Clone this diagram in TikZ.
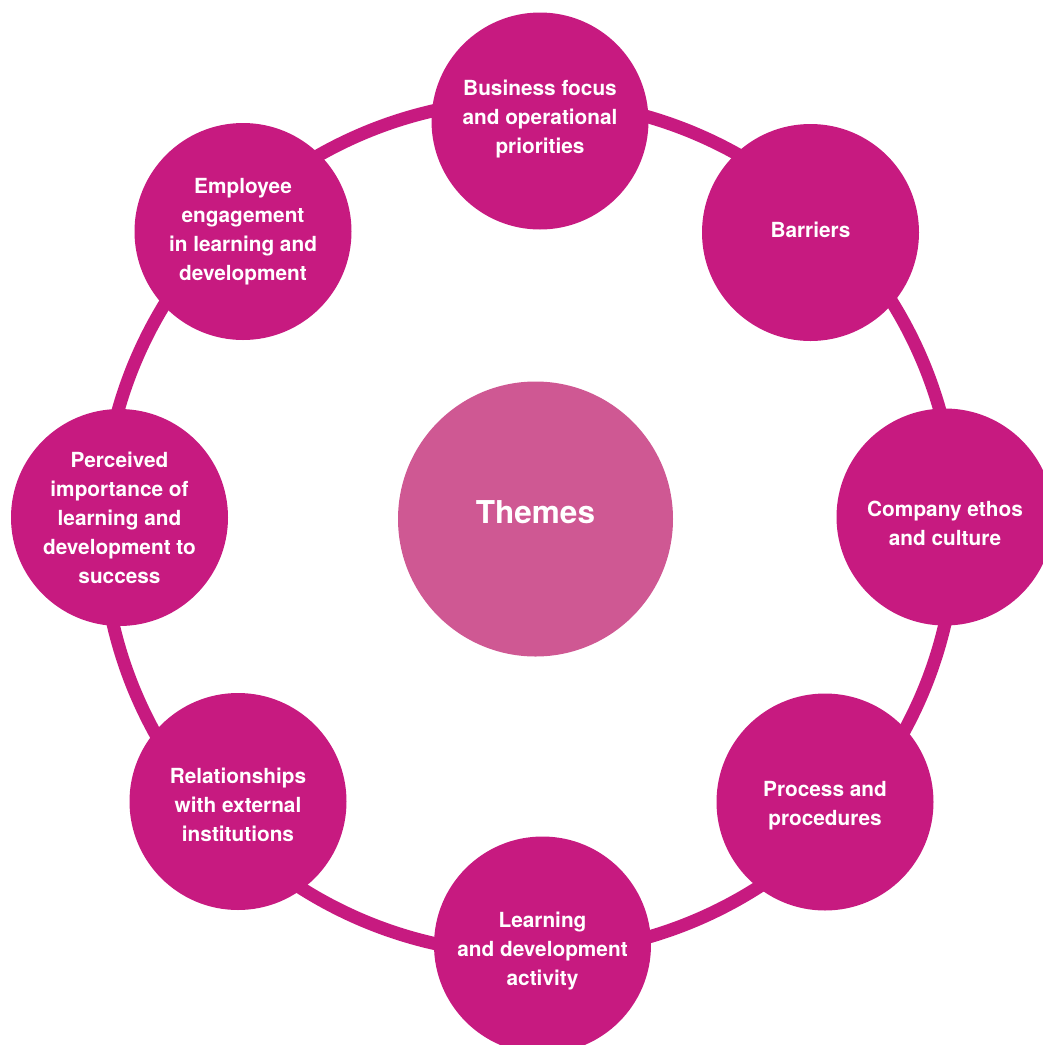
\documentclass[tikz,border=0pt]{standalone}
\usepackage{fontspec}
\setmainfont{TeX Gyre Heros}
\definecolor{themepink}{RGB}{199,26,128}
\definecolor{hubpink}{RGB}{207,88,147}
% centred block of lines with no height of its own, raised by #1 from the math axis
\newcommand{\shiftedlines}[2]{\raisebox{#1}[0pt][0pt]{\begin{tabular}{@{}c@{}}#2\end{tabular}}}
\begin{document}
\begin{tikzpicture}[x=1pt,y=-1pt,
  ring/.style={draw=themepink, line width=13pt},
  theme/.style={circle, fill=themepink, minimum size=217pt, inner sep=0pt,
    text=white, align=center, font=\bfseries\fontsize{20.8}{29}\selectfont},
  hub/.style={circle, fill=hubpink, minimum size=275pt, inner sep=0pt,
    text=white, align=center, font=\bfseries\fontsize{31.5}{38}\selectfont}]
\useasboundingbox (0,0) rectangle (1043,1045);
\clip (0,0) rectangle (1043,1045);

% ring linking the themes
\coordinate (ringc) at (529,527);
\draw[ring] (ringc) circle[radius=427pt];

% central hub
\node[hub] (hub) at (535.5,519) {\shiftedlines{-3pt}{Themes}};

% themes around the ring
\node[theme] (business) at (540,121) {\shiftedlines{-3pt}{Business focus\\and operational\\priorities}};
\node[theme] (barriers) at (810.5,232.5) {\shiftedlines{-4pt}{Barriers}};
\node[theme] (ethos) at (945,517) {\shiftedlines{-13pt}{Company ethos\\and culture}};
\node[theme] (process) at (825,802) {\shiftedlines{-8pt}{Process and\\procedures}};
\node[theme] (activity) at (542.5,945) {\shiftedlines{-11pt}{Learning\\and development\\activity}};
\node[theme] (external) at (238,801.5) {\shiftedlines{-10pt}{Relationships\\with external\\institutions}};
\node[theme] (importance) at (119.5,517.5) {\shiftedlines{-7.5pt}{Perceived\\importance of\\learning and\\development to\\success}};
\node[theme] (engagement) at (243,231.5) {\shiftedlines{-5pt}{Employee\\engagement\\in learning and\\development}};
\end{tikzpicture}
\end{document}
